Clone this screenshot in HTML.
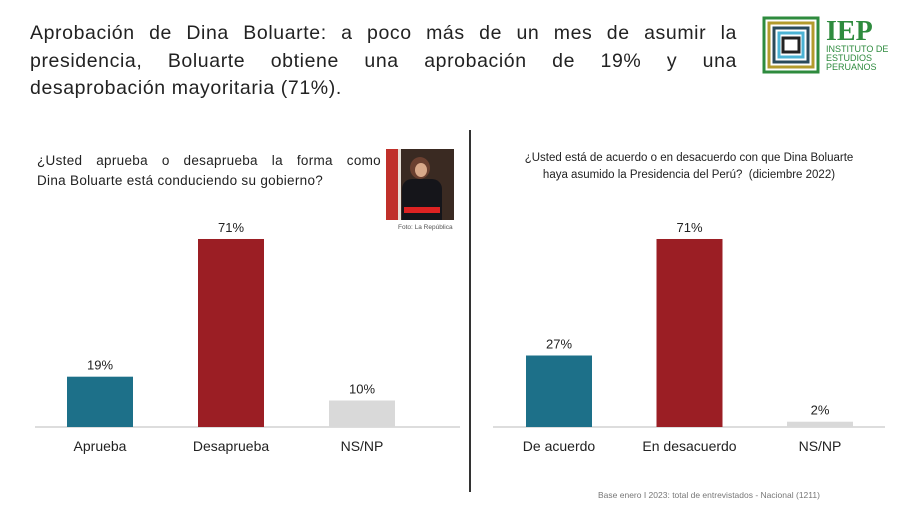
<!DOCTYPE html>
<html><head><meta charset="utf-8"><style>
body{margin:0;width:900px;height:513px;background:#fff;font-family:"Liberation Sans",sans-serif;position:relative;overflow:hidden}
.t{position:absolute}
.j{display:block;text-align:justify;text-align-last:justify}
.l{display:block}
</style></head><body>
<div class="t" style="left:30px;top:20px;width:707px;font-size:19.5px;line-height:27.5px;color:#222;letter-spacing:0.6px"><span class="j">Aprobación de Dina Boluarte: a poco más de un mes de asumir la</span><span class="j">presidencia, Boluarte obtiene una aprobación de 19% y una</span><span class="l">desaprobación mayoritaria (71%).</span></div>
<svg class="t" style="left:762px;top:16px" width="130" height="58">
<rect x="2" y="2" width="54" height="54" fill="none" stroke="#2e8b3e" stroke-width="3"/>
<rect x="7" y="7" width="44" height="44" fill="none" stroke="#b39b2c" stroke-width="3"/>
<rect x="12" y="12" width="34" height="34" fill="none" stroke="#2a4a5a" stroke-width="3"/>
<rect x="17" y="17" width="24" height="24" fill="none" stroke="#4bb3d4" stroke-width="3"/>
<rect x="21" y="22" width="16" height="14" fill="none" stroke="#222" stroke-width="3"/>
<text x="64" y="24" font-family="Liberation Serif" font-size="28" fill="#2e8b3e" font-weight="bold">IEP</text>
<text x="64" y="36" font-size="9" fill="#2e8b3e">INSTITUTO DE</text>
<text x="64" y="45" font-size="9" fill="#2e8b3e">ESTUDIOS</text>
<text x="64" y="54" font-size="9" fill="#2e8b3e">PERUANOS</text>
</svg>
<div class="t" style="left:469px;top:130px;width:2px;height:362px;background:#333"></div>
<div class="t" style="left:37px;top:151px;font-size:13.5px;line-height:20px;color:#222;width:344px;letter-spacing:0.3px"><span class="j">¿Usted aprueba o desaprueba la forma como</span><span class="l">Dina Boluarte está conduciendo su gobierno?</span></div>
<div class="t" style="left:386px;top:149px;width:68px;height:71px;background:linear-gradient(90deg,#c0302a 0 18%,#e8e0d8 18% 22%,#3a2a22 22%);overflow:hidden">
<div style="position:absolute;left:24px;top:8px;width:20px;height:22px;border-radius:50%;background:#6b4030"></div>
<div style="position:absolute;left:29px;top:14px;width:12px;height:14px;border-radius:50%;background:#d9a98a"></div>
<div style="position:absolute;left:16px;top:30px;width:40px;height:41px;border-radius:10px 10px 0 0;background:#15151a"></div>
<div style="position:absolute;left:18px;top:58px;width:36px;height:6px;background:#d22"></div>
</div>
<div class="t" style="left:398px;top:224px;font-size:6.5px;color:#555">Foto: La República</div>
<div class="t" style="left:490px;top:150px;width:398px;font-size:11.5px;line-height:17px;color:#222;text-align:center">¿Usted está de acuerdo o en desacuerdo con que Dina Boluarte<br>haya asumido la Presidencia del Perú?&nbsp; (diciembre 2022)</div>
<svg class="t" id="chart" style="left:0;top:0" width="900" height="513"></svg>
<div class="t" style="left:598px;top:490px;font-size:8.5px;color:#777">Base enero I 2023: total de entrevistados - Nacional (1211)</div>
<script>
const leftCats=["Aprueba","Desaprueba","NS/NP"];
const leftVals=[19,71,10];
const rightCats=["De acuerdo","En desacuerdo","NS/NP"];
const rightVals=[27,71,2];
const colors=["#1d7089","#9b1e24","#d9d9d9"];
const svg=document.getElementById('chart');
const NS='http://www.w3.org/2000/svg';
const base=427, k=2.648;
function y(v){return base-v*k;}
function mk(t,a){const e=document.createElementNS(NS,t);for(const q in a)e.setAttribute(q,a[q]);svg.appendChild(e);return e;}
function draw(cats,vals,x0,x1,cx0,step,name){
  const ax=mk('line',{x1:x0,x2:x1,y1:base,y2:base,stroke:'#bbb','stroke-width':1});
  
  
  cats.forEach((c,i)=>{
    const cx=cx0+i*step;
    const r=mk('rect',{x:cx-33,y:y(vals[i]),width:66,height:base-y(vals[i]),fill:colors[i]});
    
    
    const v=mk('text',{x:cx,y:y(vals[i])-7,'text-anchor':'middle','font-size':13,fill:'#222'});
    v.textContent=vals[i]+'%';
    
    
    const l=mk('text',{x:cx,y:451,'text-anchor':'middle','font-size':14,fill:'#222'});
    l.textContent=c;
    
    
  });
}
draw(leftCats,leftVals,35,460,100,131,'left');
draw(rightCats,rightVals,493,885,559,130.5,'right');
</script>
</body></html>
